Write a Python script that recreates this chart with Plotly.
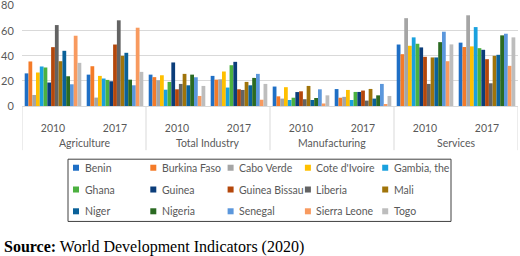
import plotly.graph_objects as go

# ---------------- data ----------------
sectors = ["Agriculture", "Total Industry", "Manufacturing", "Services"]
years = ["2010", "2017"]
countries = ["Benin", "Burkina Faso", "Cabo Verde", "Cote d'Ivoire", "Gambia, the",
             "Ghana", "Guinea", "Guinea Bissau", "Liberia", "Mali",
             "Niger", "Nigeria", "Senegal", "Sierra Leone", "Togo"]

# order of values: Agr 2010, Agr 2017, Ind 2010, Ind 2017, Man 2010, Man 2017, Serv 2010, Serv 2017
benin         = [26.0, 25.0, 25.0, 24.0, 15.5, 13.5, 49.0, 50.5]
burkina_faso  = [35.5, 31.7, 23.0, 21.0, 7.7, 6.6, 41.3, 47.0]
cabo_verde    = [8.8, 6.7, 20.5, 21.3, 5.9, 7.3, 70.0, 72.3]
cote_divoire  = [26.7, 24.0, 24.5, 27.5, 15.0, 12.8, 48.0, 47.5]
gambia        = [31.5, 21.9, 13.0, 14.7, 4.8, 4.8, 54.7, 62.9]
ghana         = [30.7, 20.8, 19.2, 32.5, 6.6, 11.2, 49.6, 46.1]
guinea        = [18.7, 19.7, 34.7, 35.2, 11.1, 11.2, 46.7, 44.8]
guinea_bissau = [46.9, 49.0, 13.3, 13.3, 11.7, 12.3, 39.2, 37.3]
liberia       = [64.5, 68.3, 17.6, 12.8, 5.4, 4.3, 17.6, 18.1]
mali          = [35.7, 40.0, 25.6, 19.2, 16.0, 13.6, 38.7, 40.0]
niger         = [44.0, 42.4, 16.5, 16.5, 4.8, 5.9, 38.7, 40.8]
nigeria       = [23.7, 21.0, 25.0, 22.4, 6.4, 8.5, 50.9, 56.3]
senegal       = [17.3, 16.5, 22.9, 25.6, 13.3, 17.6, 59.2, 57.6]
sierra_leone  = [56.0, 62.4, 8.0, 5.0, 2.0, 1.6, 35.7, 32.0]
togo          = [34.4, 27.2, 16.0, 17.6, 8.5, 8.0, 49.1, 54.7]

series = [benin, burkina_faso, cabo_verde, cote_divoire, gambia, ghana, guinea,
          guinea_bissau, liberia, mali, niger, nigeria, senegal, sierra_leone, togo]

colors = ["#1F6FC5", "#F47B28", "#A5A5A5", "#FFC000", "#1AA1DE",
          "#4CB140", "#0B3D7A", "#B4470B", "#636363", "#A0740A",
          "#0A6199", "#2B6A22", "#5B97DC", "#F89A5F", "#BDBDBD"]

y_ticks = [0, 20, 40, 60, 80]
source_text = "<b>Source:</b> World Development Indicators (2020)"

# ---------------- figure ----------------
cats = [f"{s} {y}" for s in sectors for y in years]      # one category per sector/year
cat_years = [y for _ in sectors for y in years]

fig = go.Figure()
for name, vals, col in zip(countries, series, colors):
    fig.add_trace(go.Bar(x=cats, y=vals, name=name,
                         marker=dict(color=col, line=dict(width=0)),
                         showlegend=False))

W_FIG, H_FIG = 520, 256
Y_TOP = 80.5
L, R, B = 22, 2, 150
PH = 100 * Y_TOP / 80.0          # 80 sits at y=6 px, 0 at y=106 px
T = H_FIG - B - PH
PW = W_FIG - L - R


def px_x(x):
    return (x - L) / PW


def px_y(y):
    return (T + PH - y) / PH


grey_txt = "#595959"
line_grey = "#D9D9D9"
font_sans = "Lato"

fig.update_layout(
    width=W_FIG, height=H_FIG, autosize=False,
    margin=dict(l=L, r=R, t=T, b=B, pad=0),
    template="none",
    paper_bgcolor="white", plot_bgcolor="white",
    barmode="group", bargap=0.087, bargroupgap=0,
    showlegend=False,
    font=dict(family=font_sans, size=10.5, color=grey_txt),
)

fig.update_xaxes(
    type="category", range=[-0.5, len(cats) - 0.5],
    tickvals=cats, ticktext=cat_years,
    showline=True, linecolor=line_grey, linewidth=1,
    showgrid=False, zeroline=False,
    tickfont=dict(family=font_sans, size=10.5, color=grey_txt),
    ticks="outside", ticklen=12, tickcolor="rgba(0,0,0,0)",
    ticklabeloverflow="allow",
)
fig.update_yaxes(
    range=[0, Y_TOP], tickvals=y_ticks,
    showgrid=True, gridcolor=line_grey, gridwidth=1,
    zeroline=False, showline=False,
    ticks="outside", ticklen=5, tickcolor="rgba(0,0,0,0)",
    tickfont=dict(family=font_sans, size=11, color=grey_txt),
    ticklabeloverflow="allow",
)

shapes = []
annotations = []

# sector dividers and sector labels under the year labels
n_years = len(years)
for k, s in enumerate(sectors):
    left = k * n_years - 0.5
    shapes.append(dict(type="line", xref="x", yref="paper",
                       x0=left, x1=left, y0=0, y1=px_y(150),
                       line=dict(color=line_grey, width=1)))
    annotations.append(dict(text=s, xref="x", yref="paper",
                            x=left + n_years / 2, y=px_y(143),
                            xanchor="center", yanchor="middle", showarrow=False,
                            font=dict(family=font_sans, size=10.5, color=grey_txt)))
right = len(cats) - 0.5
shapes.append(dict(type="line", xref="x", yref="paper",
                   x0=right, x1=right, y0=0, y1=px_y(150),
                   line=dict(color=line_grey, width=1)))

# ---------------- legend (boxed, 5 columns) ----------------
box_x0, box_x1, box_y0, box_y1 = 68, 451, 159, 221
shapes.append(dict(type="rect", xref="paper", yref="paper",
                   x0=px_x(box_x0), x1=px_x(box_x1), y0=px_y(box_y0), y1=px_y(box_y1),
                   line=dict(color="#404040", width=1), fillcolor="rgba(0,0,0,0)"))
col_step, row_step = 77.3, 21.7
sq = 6
for i, (name, col) in enumerate(zip(countries, colors)):
    c, r = i % 5, i // 5
    cy = 167.5 + r * row_step
    sx = 73 + c * col_step
    shapes.append(dict(type="rect", xref="paper", yref="paper",
                       x0=px_x(sx), x1=px_x(sx + sq),
                       y0=px_y(cy - sq / 2), y1=px_y(cy + sq / 2),
                       line=dict(width=0), fillcolor=col))
    annotations.append(dict(text=name, xref="paper", yref="paper",
                            x=px_x(sx + 9.5), y=px_y(cy), xanchor="left", yanchor="middle",
                            showarrow=False,
                            font=dict(family=font_sans, size=10.5, color=grey_txt)))

annotations.append(dict(text=source_text, xref="paper", yref="paper",
                        x=px_x(2), y=px_y(246), xanchor="left", yanchor="middle",
                        showarrow=False,
                        font=dict(family="Liberation Serif", size=16, color="black")))

fig.update_layout(shapes=shapes, annotations=annotations)

fig.write_html("out.html")
